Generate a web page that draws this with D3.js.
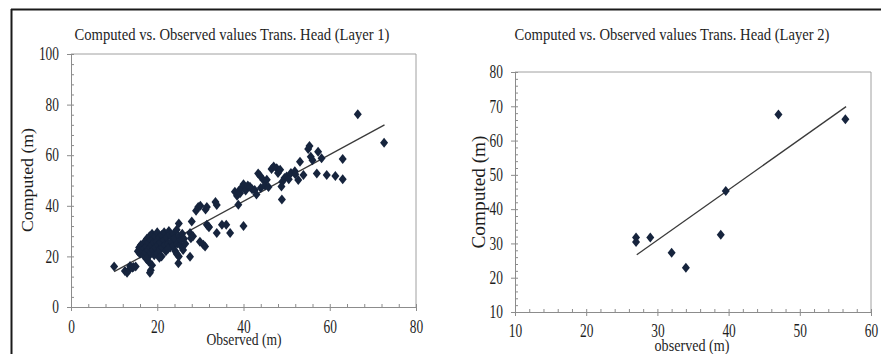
<!DOCTYPE html>
<html><head><meta charset="utf-8">
<script src="https://cdn.jsdelivr.net/npm/d3@7"></script>
<style>body{margin:0;background:#fff}svg{display:block}text{font-family:'Liberation Serif','Times New Roman',serif}</style>
</head><body><svg id="c" width="881" height="354"></svg>
<script>
// ---------- DATA ----------
const titles = ["Computed vs. Observed values Trans. Head (Layer 1)", "Computed vs. Observed values Trans. Head (Layer 2)"];
const xLabels = ["Observed (m)", "observed (m)"];
const yLabels = ["Computed (m)", "Computed (m)"];

const layer1XTicks = [0, 20, 40, 60, 80];
const layer1YTicks = [0, 20, 40, 60, 80, 100];
const layer2XTicks = [10, 20, 30, 40, 50, 60];
const layer2YTicks = [10, 20, 30, 40, 50, 60, 70, 80];

// [observed, computed] Layer 1
const layer1Points = [
 [10,16],[12.5,14.2],[13,13.5],[13.5,14.8],[13.7,16.2],[14.2,15.5],[14.5,15.8],[15,16],
 [15.5,22],[15.8,23.5],[16,21],[16.2,24.5],[16.5,22.5],[16.8,25],[16.8,20.5],[17,23],[17.2,26],
 [17.3,21.5],[17.5,24],[17.6,27],[17.8,22.5],[18,25.5],[18,20],[18.2,28],[18.3,23.5],[18.5,26.5],
 [18.5,21.5],[18.7,24.5],[18.8,29],[19,22.5],[19,27],[19.2,25.5],[19.3,20.5],[19.5,28],[19.6,23.5],
 [19.8,26],[20,21],[20,29.5],[20.2,24.5],[20.4,27.5],[20.5,22.5],[20.7,25.5],[21,28.5],[21,20],
 [21.2,23.5],[21.5,26.5],[21.6,29.5],[21.8,24.5],[22,22],[22.2,27.5],[22.5,25],[22.7,30],[23,23.5],
 [23,28.5],[23.3,26],[23.6,24],[23.8,29],[24,27],[24.2,22],[24.5,30.5],[24.6,25],[25,28],[25,33],
 [25.3,24.5],[25.5,26.5],[25.8,29],[26,22.5],[26.2,27],[26.5,25],
 [18.3,13.5],[18.5,14.5],[18.8,16.5],[18,18],[17.5,19],[20.5,19.5],[24.9,17.3],[25,20],[24.5,21],
 [27.6,19.9],[22.5,23],[27.8,27.2],[27.6,29.2],[28,33.8],[28.3,28],[29.9,25.8],[30.7,24.6],[31.1,23.9],
 [29,38],[29.5,39.5],[30,40],[31.2,38.5],[31.5,39.5],[31.9,31.8],[31.5,32.5],[32,31.5],[33.5,41.5],
 [33.8,40.3],[33.8,29.2],[35,32.5],[36,32.5],[36.9,29.2],[38,45.6],[38.5,44],[38.8,40.4],[39,46],
 [39.2,45],[39.5,47],[40,48.5],[40,32],[40.5,46],[41,48],[41.5,47.5],[42,46.5],[42.6,46.2],[43,44.5],
 [43.4,52.8],[43.8,52],[44,47],[44.6,50.2],[45,48],[45.4,50.3],[45.8,47.4],[46.5,54.5],[47,55.5],
 [47.7,54.8],[48,53],[48.5,54.2],[48.8,47.6],[48.9,42.5],[49,49.5],[49.5,51],[50,51.6],[50.5,50.5],
 [51,53],[51.9,53.7],[52,52.5],[52.7,50.2],[53.1,57.4],[53.9,52.2],[55,62.5],[55.3,63.6],[55.6,59.4],
 [56,58],[57,52.8],[57.3,61.4],[58.1,58.8],[59.3,52.2],[61.3,51.8],[63,58.5],[63,50.5],
 [66.5,76.2],[72.6,64.9]
];
const layer1Trend = [[10, 14.0], [72.7, 72.0]];

// [observed, computed] Layer 2
const layer2Points = [
 [27.0,31.7],[27.0,30.4],[29.0,31.7],[32.0,27.3],[34.0,22.9],[38.9,32.5],[39.6,45.3],[47.0,67.6],[56.4,66.2]
];
const layer2Trend = [[27.1, 26.7], [56.5, 69.9]];

// ---------- DRAW ----------
const svg = d3.select("#c");
const FONT = "'Liberation Serif','Times New Roman',serif";
const AX = "#8c8c8c";
const MARK = "#16243d";

// outer frame
svg.append("line").attr("x1", 11).attr("x2", 881).attr("y1", 9.5).attr("y2", 9.5)
  .attr("stroke", "#1a1a1a").attr("stroke-width", 2);
svg.append("line").attr("x1", 11.5).attr("x2", 11.5).attr("y1", 9).attr("y2", 354)
  .attr("stroke", "#1a1a1a").attr("stroke-width", 2);

function txt(g, s, x, y, size, len, anchor, rot) {
  const t = g.append("text").text(s).style("font-family", FONT).attr("font-size", size)
    .attr("fill", "#1e1e1e").attr("text-anchor", anchor || "middle")
    .attr("textLength", len).attr("lengthAdjust", "spacingAndGlyphs");
  if (rot) t.attr("transform", `translate(${x},${y}) rotate(-90)`);
  else t.attr("x", x).attr("y", y);
  return t;
}

const panels = [
  {pts: layer1Points, trend: layer1Trend, xt: layer1XTicks, yt: layer1YTicks, xMinor: 4, yMinor: 4,
   x0: 71, x1: 416, y0: 307, y1: 54, title: titles[0], titleX: 232, xl: xLabels[0], xlX: 244, xlY: 345, xlLen: 75,
   yl: yLabels[0], ylX: 33, ylY: 180, ylLen: 104, ylSize: 17.5, xPad: 9},
  {pts: layer2Points, trend: layer2Trend, xt: layer2XTicks, yt: layer2YTicks, xMinor: 2, yMinor: 2,
   x0: 515, x1: 871, y0: 312, y1: 72, title: titles[1], titleX: 672, xl: xLabels[1], xlX: 692, xlY: 351, xlLen: 75,
   yl: yLabels[1], ylX: 485, ylY: 192, ylLen: 113, ylSize: 19, xPad: 8}
];

panels.forEach(p => {
  const g = svg.append("g");
  const xd = d3.extent(p.xt), yd = d3.extent(p.yt);
  const x = d3.scaleLinear().domain(xd).range([p.x0, p.x1]);
  const y = d3.scaleLinear().domain(yd).range([p.y0, p.y1]);

  // plot box (top and right)
  g.append("path").attr("d", `M${p.x0},${p.y1}H${p.x1}V${p.y0}`).attr("fill", "none")
    .attr("stroke", "#a0a0a0").attr("stroke-width", 1);

  const xMin = d3.range(xd[0], xd[1] + 0.001, p.xMinor);
  const yMin = d3.range(yd[0], yd[1] + 0.001, p.yMinor);

  // inner (minor) ticks
  g.append("g").attr("transform", `translate(0,${p.y0})`)
    .call(d3.axisBottom(x).tickValues(xMin).tickSize(-3).tickSizeOuter(0).tickFormat(""))
    .call(a => a.selectAll("line,path").attr("stroke", AX));
  g.append("g").attr("transform", `translate(${p.x0},0)`)
    .call(d3.axisLeft(y).tickValues(yMin).tickSize(-3).tickSizeOuter(0).tickFormat(""))
    .call(a => a.selectAll("line,path").attr("stroke", AX));

  // major ticks + labels
  const xa = g.append("g").attr("transform", `translate(0,${p.y0})`)
    .call(d3.axisBottom(x).tickValues(p.xt).tickSize(4).tickSizeOuter(0).tickPadding(p.xPad));
  const ya = g.append("g").attr("transform", `translate(${p.x0},0)`)
    .call(d3.axisLeft(y).tickValues(p.yt).tickSize(4).tickSizeOuter(0).tickPadding(8));
  [xa, ya].forEach(a => {
    a.attr("font-family", null).attr("font-size", null);
    a.selectAll("line,path").attr("stroke", AX);
    a.selectAll("text").style("font-family", FONT).attr("font-size", 18).attr("fill", "#1e1e1e")
      .attr("textLength", function () { return this.textContent.length * 6.7; })
      .attr("lengthAdjust", "spacingAndGlyphs");
  });

  // titles and axis labels
  txt(g, p.title, p.titleX, 40, 17.5, 315);
  txt(g, p.xl, p.xlX, p.xlY, 17.5, p.xlLen);
  txt(g, p.yl, p.ylX, p.ylY, p.ylSize, p.ylLen, "middle", true);

  // trend line
  g.append("path").datum(p.trend)
    .attr("d", d3.line().x(d => x(d[0])).y(d => y(d[1])))
    .attr("stroke", "#3a3a3a").attr("stroke-width", 1.3).attr("fill", "none");

  // markers
  g.selectAll("path.pt").data(p.pts).join("path").attr("class", "pt")
    .attr("transform", d => `translate(${x(d[0])},${y(d[1])})`)
    .attr("d", "M0,-5L4,0L0,5L-4,0Z").attr("fill", MARK);
});
</script></body></html>
